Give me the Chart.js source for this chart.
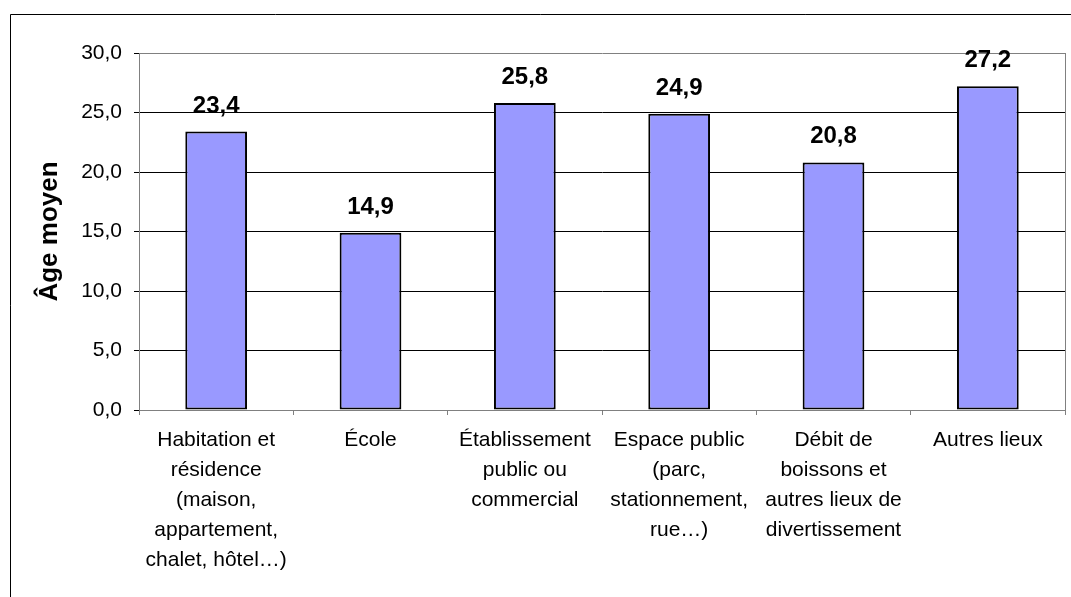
<!DOCTYPE html>
<html>
<head>
<meta charset="utf-8">
<script src="https://cdn.jsdelivr.net/npm/chart.js@4.4.1/dist/chart.umd.min.js"></script>
<style>
  body { margin: 0; background: #fff; }
  #wrap { position: relative; width: 1071px; height: 597px; }
</style>
</head>
<body>
<div id="wrap"><canvas id="chart"></canvas></div>
<script>
const categories = [
  ['Habitation et', 'résidence', '(maison,', 'appartement,', 'chalet, hôtel…)'],
  ['École'],
  ['Établissement', 'public ou', 'commercial'],
  ['Espace public', '(parc,', 'stationnement,', 'rue…)'],
  ['Débit de', 'boissons et', 'autres lieux de', 'divertissement'],
  ['Autres lieux']
];
const ageValues = [23.4, 14.9, 25.8, 24.9, 20.8, 27.2];
const yTitle = 'Âge moyen';

const FONT = '"Liberation Sans", Arial, sans-serif';
const fmt = v => v.toFixed(1).replace('.', ',');

// outer frame + right edge of plot area
const framePlugin = {
  id: 'frame',
  beforeDraw(chart) {
    const ctx = chart.ctx;
    ctx.save();
    ctx.fillStyle = '#fff';
    ctx.fillRect(0, 0, chart.width, chart.height);
    ctx.strokeStyle = '#000';
    ctx.lineWidth = 1;
    ctx.beginPath();
    ctx.moveTo(10.5, chart.height);
    ctx.lineTo(10.5, 14.5);
    ctx.lineTo(chart.width, 14.5);
    ctx.stroke();
    ctx.restore();
  },
  afterDraw(chart) {
    const a = chart.chartArea;
    const ctx = chart.ctx;
    ctx.save();
    ctx.strokeStyle = '#808080';
    ctx.lineWidth = 1;
    ctx.beginPath();
    ctx.moveTo(a.right + 0.5, a.top);
    ctx.lineTo(a.right + 0.5, a.bottom);
    ctx.stroke();
    ctx.restore();
  }
};

// values above bars
const valueLabels = {
  id: 'valueLabels',
  afterDatasetsDraw(chart) {
    const ctx = chart.ctx;
    const meta = chart.getDatasetMeta(0);
    ctx.save();
    ctx.font = 'bold 24px ' + FONT;
    ctx.fillStyle = '#000';
    ctx.textAlign = 'center';
    ctx.textBaseline = 'alphabetic';
    meta.data.forEach((bar, i) => {
      ctx.fillText(fmt(ageValues[i]), bar.x, bar.y - 19);
    });
    ctx.restore();
  }
};

new Chart(document.getElementById('chart'), {
  type: 'bar',
  data: {
    labels: categories,
    datasets: [{
      data: ageValues,
      backgroundColor: '#9999FF',
      borderColor: '#000',
      borderWidth: 2,
      borderSkipped: false,
      barPercentage: 0.4,
      categoryPercentage: 1
    }]
  },
  options: {
    responsive: true,
    maintainAspectRatio: false,
    animation: false,
    layout: { padding: { top: 53, right: 6, left: 0, bottom: 0 } },
    plugins: {
      legend: { display: false },
      tooltip: { enabled: false }
    },
    scales: {
      x: {
        grid: {
          offset: true,
          drawOnChartArea: false,
          drawTicks: true,
          tickLength: 5,
          tickColor: '#808080'
        },
        border: { color: '#808080' },
        ticks: {
          color: '#000',
          padding: 10,
          maxRotation: 0,
          autoSkip: false,
          font: { family: FONT, size: 21, lineHeight: 30 / 21 }
        },
        afterFit: s => { s.height = 187; }
      },
      y: {
        min: 0,
        max: 30,
        grid: {
          color: c => (c.tick && c.tick.value === 30 ? '#808080' : '#000'),
          tickColor: '#000',
          tickLength: 5
        },
        border: { color: '#808080' },
        ticks: {
          stepSize: 5,
          padding: 12,
          color: '#000',
          font: { family: FONT, size: 21 },
          callback: v => fmt(v)
        },
        title: {
          display: true,
          text: yTitle,
          color: '#000',
          font: { family: FONT, size: 26, weight: 'bold', lineHeight: 1.2 },
          padding: { top: 34, bottom: 0 }
        },
        afterFit: s => { s.width = 139; }
      }
    }
  },
  plugins: [framePlugin, valueLabels]
});
</script>
</body>
</html>
